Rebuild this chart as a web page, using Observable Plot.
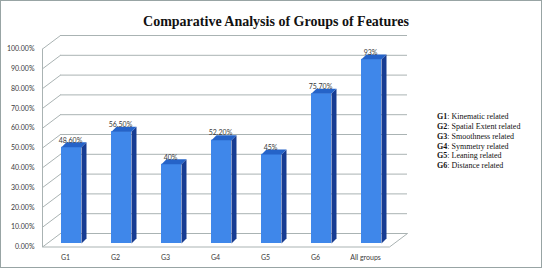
<!DOCTYPE html>
<html>
<head>
<meta charset="utf-8">
<script src="https://cdn.jsdelivr.net/npm/d3@7"></script>
<script src="https://cdn.jsdelivr.net/npm/@observablehq/plot@0.6"></script>
<style>
  html, body { margin: 0; padding: 0; background: #fff; }
  #chart svg { display: block; outline: 1.5px solid #98a4a4; outline-offset: -1.5px; }
</style>
</head>
<body>
<div id="chart"></div>
<script>
const title = "Comparative Analysis of Groups of Features";
const groups = ["G1", "G2", "G3", "G4", "G5", "G6", "All groups"];
const values = [48.6, 56.5, 40, 52.2, 45, 75.7, 93];
const valueLabels = ["48.60%", "56.50%", "40%", "52.20%", "45%", "75.70%", "93%"];
const yTicks = [0, 10, 20, 30, 40, 50, 60, 70, 80, 90, 100];
const legendKeys = ["G1", "G2", "G3", "G4", "G5", "G6"];
const legendNames = ["Kinematic related", "Spatial Extent related", "Smoothness related",
  "Symmetry related", "Leaning related", "Distance related"];

// geometry (in scale units)
const HW = 0.2, DXu = 0.1, DYu = 2.5;
const frontX = -0.58, backX = -0.22, backRight = 6.72, frontRight = 6.36;
const frontOff = -1.77, backOff = 5.05;

const bars = groups.map((g, i) => ({g, i, v: values[i], label: valueLabels[i]}));
const sides = [], tops = [];
bars.forEach(({i, v}) => {
  [[i + HW, 0], [i + HW, v], [i + HW + DXu, v + DYu], [i + HW + DXu, DYu]]
    .forEach(([x, y]) => sides.push({id: i, x, y}));
  [[i - HW, v], [i + HW, v], [i + HW + DXu, v + DYu], [i - HW + DXu, v + DYu]]
    .forEach(([x, y]) => tops.push({id: i, x, y}));
});
const floor = [
  {x: frontX, y: 100 + frontOff}, {x: frontX, y: frontOff},
  {x: frontRight, y: frontOff}, {x: backRight, y: backOff}
];

const grid = "#aab3b3";
const lab = "#3a3a3a";
const sans = "Lato, 'Open Sans', sans-serif";
const serif = "'Liberation Serif', 'Times New Roman', serif";

const plot = Plot.plot({
  width: 542, height: 268,
  marginLeft: 42, marginTop: 0, marginRight: 0, marginBottom: 0,
  style: {background: "#fff", fontFamily: sans},
  x: {domain: [-1, 7], range: [21, 421], axis: null},
  y: {domain: [0, 100], range: [243, 45], axis: null},
  marks: [
    // back wall gridlines
    Plot.ruleY(yTicks, {y: d => d + backOff, x1: backX, x2: backRight, stroke: grid, strokeWidth: 1}),
    // left wall diagonals
    Plot.link(yTicks, {x1: frontX, y1: d => d + frontOff, x2: backX, y2: d => d + backOff, stroke: grid, strokeWidth: 1}),
    // floor front edge + left vertical
    Plot.line(floor, {x: "x", y: "y", stroke: grid, strokeWidth: 1}),
    // y tick labels
    Plot.text(yTicks, {x: frontX, y: d => d + frontOff, text: d => d.toFixed(2) + "%", textAnchor: "end", dx: -8, fontSize: 7, fill: lab}),
    // bars: front faces
    Plot.rect(bars, {x1: d => d.i - HW, x2: d => d.i + HW, y1: 0, y2: "v", fill: "#3f87ea"}),
    // side faces
    Plot.line(sides, {x: "x", y: "y", z: "id", fill: "#173c92", stroke: "none", curve: "linear-closed"}),
    // top faces
    Plot.line(tops, {x: "x", y: "y", z: "id", fill: "#2563c8", stroke: "none", curve: "linear-closed"}),
    // value labels
    Plot.text(bars, {x: "i", y: "v", text: "label", dy: -7, dx: -1, fontSize: 7, fill: lab}),
    // category labels
    Plot.text(bars, {x: "i", y: 0, text: "g", dy: 14, dx: -6, fontSize: 7, fill: lab}),
    // title
    Plot.text([title], {frameAnchor: "top-left", dx: 233.5, dy: 16, textAnchor: "middle",
      fontFamily: serif, fontWeight: "bold", fontSize: 14, fill: "#111"}),
    // legend
    Plot.text([legendKeys.join("\n")], {frameAnchor: "top-left", dx: 394.5, dy: 112, textAnchor: "start", lineAnchor: "top",
      lineHeight: 1.22, fontFamily: serif, fontWeight: "bold", fontSize: 8, fill: "#111"}),
    Plot.text([legendNames.map(n => ": " + n).join("\n")], {frameAnchor: "top-left", dx: 404.8, dy: 112, textAnchor: "start", lineAnchor: "top",
      lineHeight: 1.22, fontFamily: serif, fontSize: 8, fill: "#111"})
  ]
});
document.getElementById("chart").append(plot);
</script>
</body>
</html>
